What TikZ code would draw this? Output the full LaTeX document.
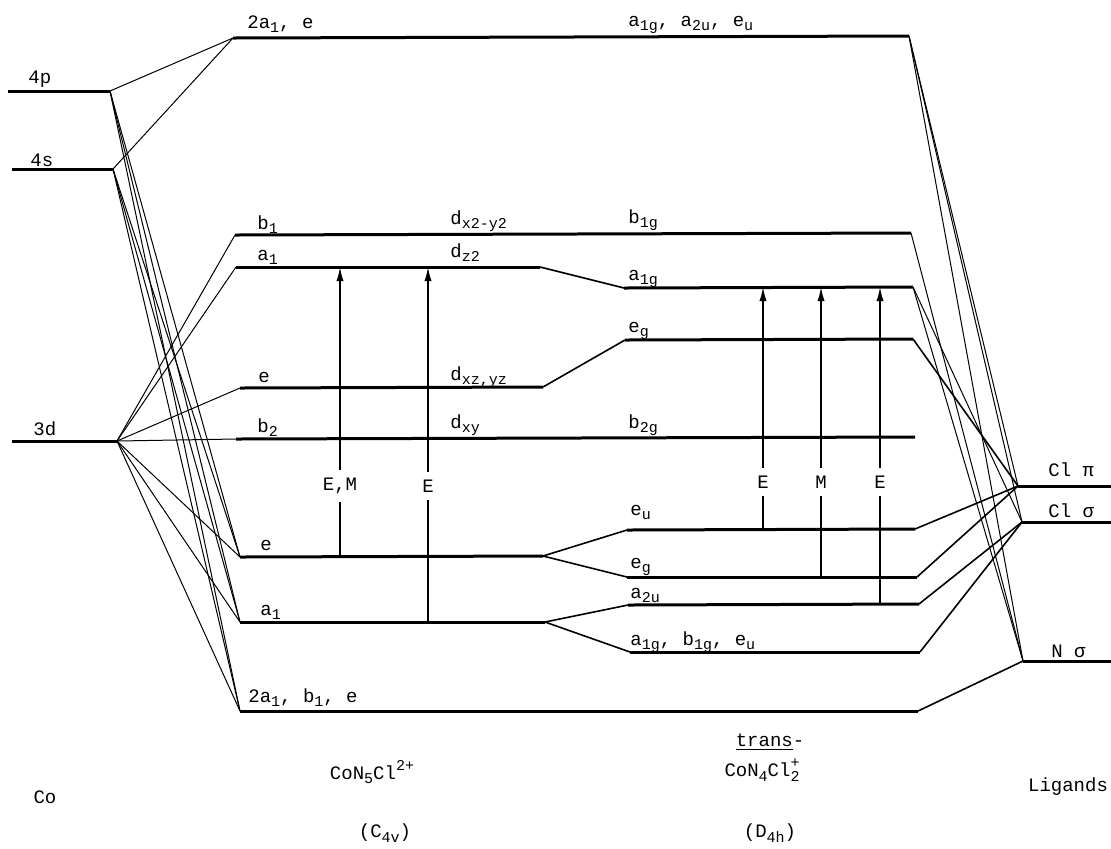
\documentclass[tikz,border=0pt]{standalone}
\usepackage{fontspec}
\setmainfont{Liberation Mono}
\usetikzlibrary{arrows.meta}

\newcommand{\lsub}[1]{\raisebox{-0.45ex}{\fontsize{7.5}{8}\selectfont #1}}
\newcommand{\lsup}[1]{\raisebox{0.9ex}{\fontsize{7.5}{8}\selectfont #1}}

\tikzset{
  lvl/.style={line width=1.5pt},
  link/.style={line width=0.5pt},
  slant/.style={line width=0.8pt},
  trans/.style={line width=0.8pt},
  lab/.style={anchor=base west, inner sep=0pt, font=\fontsize{9.5}{10}\selectfont},
  tag/.style={inner sep=1pt, outer sep=3pt, font=\fontsize{9.5}{10}\selectfont},
  title/.style={inner sep=0pt, font=\fontsize{9.5}{10}\selectfont},
}

\begin{document}
\begin{tikzpicture}[x=0.5pt,y=-0.5pt]
  \useasboundingbox (0,0) rectangle (1111,848);

  % Co levels
  \coordinate (p0) at (8,91);    \coordinate (p1) at (110,91);
  \coordinate (s0) at (12,169);  \coordinate (s1) at (113,169);
  \coordinate (d0) at (12,441);  \coordinate (d1) at (117,441);

  % C4v / D4h levels
  \coordinate (t0) at (233,38);   \coordinate (t1) at (909,36);
  \coordinate (bo0) at (235,235); \coordinate (bo1) at (911,233);
  \coordinate (au0) at (236,267); \coordinate (au1) at (540,267);
  \coordinate (ag0) at (624,288); \coordinate (ag1) at (913,287);
  \coordinate (ec0) at (240,388); \coordinate (ec1) at (543,387);
  \coordinate (eg0) at (625,340); \coordinate (eg1) at (913,339);
  \coordinate (bt0) at (236,439); \coordinate (bt1) at (915,437);
  \coordinate (el0) at (240,557); \coordinate (el1) at (543,556);
  \coordinate (eu0) at (627,530); \coordinate (eu1) at (915,529);
  \coordinate (gl0) at (627,577); \coordinate (gl1) at (917,577);
  \coordinate (al0) at (240,622); \coordinate (al1) at (545,622);
  \coordinate (au20) at (628,605); \coordinate (au21) at (919,604);
  \coordinate (ab0) at (630,652); \coordinate (ab1) at (920,652);
  \coordinate (bb0) at (240,711); \coordinate (bb1) at (918,711);

  % ligand levels
  \coordinate (cp0) at (1018,486); \coordinate (cp1) at (1111,486);
  \coordinate (cs0) at (1022,522); \coordinate (cs1) at (1111,522);
  \coordinate (ns0) at (1023,661); \coordinate (ns1) at (1111,661);

  \draw[lvl] (p0) -- (p1);
  \draw[lvl] (s0) -- (s1);
  \draw[lvl] (d0) -- (d1);
  \draw[lvl] (t0) -- (t1);
  \draw[lvl] (bo0) -- (bo1);
  \draw[lvl] (au0) -- (au1);
  \draw[lvl] (ag0) -- (ag1);
  \draw[lvl] (ec0) -- (ec1);
  \draw[lvl] (eg0) -- (eg1);
  \draw[lvl] (bt0) -- (bt1);
  \draw[lvl] (el0) -- (el1);
  \draw[lvl] (eu0) -- (eu1);
  \draw[lvl] (gl0) -- (gl1);
  \draw[lvl] (al0) -- (al1);
  \draw[lvl] (au20) -- (au21);
  \draw[lvl] (ab0) -- (ab1);
  \draw[lvl] (bb0) -- (bb1);
  \draw[lvl] (cp0) -- (cp1);
  \draw[lvl] (cs0) -- (cs1);
  \draw[lvl] (ns0) -- (ns1);

  % C4v -> D4h
  \draw[slant] (au1) -- (ag0);
  \draw[slant] (ec1) -- (eg0);
  \draw[slant] (el1) -- (eu0);
  \draw[slant] (el1) -- (gl0);
  \draw[slant] (al1) -- (au20);
  \draw[slant] (al1) -- (ab0);

  % Co -> C4v
  \foreach \a/\b in {p1/t0, s1/t0, d1/bo0, d1/au0, d1/ec0, d1/bt0,
                     d1/el0, d1/al0, d1/bb0, p1/el0, p1/al0, p1/bb0,
                     s1/el0, s1/al0, s1/bb0}
    \draw[link] (\a) -- (\b);

  % D4h -> ligands
  \foreach \a/\b in {t1/cp0, t1/cs0, t1/ns0, bo1/ns0, ag1/cs0, ag1/ns0}
    \draw[link] (\a) -- (\b);
  \draw[slant] (eg1) -- (cp0);
  \draw[slant] (eu1) -- (cp0);
  \draw[slant] (gl1) -- (cp0);
  \draw[slant] (au21) -- (cs0);
  \draw[slant] (ab1) -- (cs0);
  \draw[slant] (bb1) -- (ns0);

  % transitions
  \coordinate (x1b) at (340,557); \coordinate (x1t) at (340,267);
  \coordinate (x2b) at (428,622); \coordinate (x2t) at (428,267);
  \coordinate (x3b) at (763,530); \coordinate (x3t) at (763,287);
  \coordinate (x4b) at (821,577); \coordinate (x4t) at (821,287);
  \coordinate (x5b) at (880,605); \coordinate (x5t) at (880,287);
  \node[tag] (tEM) at (340,486) {E,M};
  \node[tag] (tE1) at (428,486) {E};
  \node[tag] (tE2) at (763,482) {E};
  \node[tag] (tM)  at (821,482) {M};
  \node[tag] (tE3) at (880,482) {E};
  \foreach \n/\b/\t in {tEM/x1b/x1t, tE1/x2b/x2t, tE2/x3b/x3t, tM/x4b/x4t, tE3/x5b/x5t}{
    \draw[trans] (\b) -- (\n);
    \draw[trans, -{Latex[length=7pt,width=3.6pt]}] (\n) -- (\t);
  }

  % level labels
  \node[lab] (l4p) at (28,83) {4p};
  \node[lab] (l4s) at (30,166) {4s};
  \node[lab] (l3d) at (33,435) {3d};
  \node[lab] (ltop) at (247,28) {2a\lsub{1}, e};
  \node[lab] (ltopd) at (628,26) {a\lsub{1g}, a\lsub{2u}, e\lsub{u}};
  \node[lab] (lb1) at (257,229) {b\lsub{1}};
  \node[lab] (ldx) at (450,224) {d\lsub{x2-y2}};
  \node[lab] (la1) at (257,260) {a\lsub{1}};
  \node[lab] (ldz) at (450,257) {d\lsub{z2}};
  \node[lab] (le) at (258,382) {e};
  \node[lab] (ldxz) at (450,380) {d\lsub{xz,yz}};
  \node[lab] (lb2) at (257,432) {b\lsub{2}};
  \node[lab] (ldxy) at (450,428) {d\lsub{xy}};
  \node[lab] (lb1g) at (628,223) {b\lsub{1g}};
  \node[lab] (la1g) at (628,280) {a\lsub{1g}};
  \node[lab] (leg) at (628,332) {e\lsub{g}};
  \node[lab] (lb2g) at (628,428) {b\lsub{2g}};
  \node[lab] (lel) at (260,550) {e};
  \node[lab] (lal) at (260,615) {a\lsub{1}};
  \node[lab] (lbb) at (248,702) {2a\lsub{1}, b\lsub{1}, e};
  \node[lab] (leu) at (630,515) {e\lsub{u}};
  \node[lab] (lgl) at (630,568) {e\lsub{g}};
  \node[lab] (la2u) at (630,598) {a\lsub{2u}};
  \node[lab] (lab1) at (630,645) {a\lsub{1g}, b\lsub{1g}, e\lsub{u}};
  \node[lab] (lcp) at (1048,476) {Cl π};
  \node[lab] (lcs) at (1048,517) {Cl σ};
  \node[lab] (lns) at (1051,657) {N σ};

  % column titles
  \node[title] (tco) at (45,797) {Co};
  \node[title] (tc4) at (372,772) {CoN\lsub{5}Cl\lsup{2+}};
  \node[title] (tc4s) at (385,833) {(C\lsub{4v})};
  \node[title] (ttr) at (770,742) {\underline{trans}-};
  \node[title] (td4) at (762,770) {CoN\lsub{4}Cl\rlap{\lsub{2}}\lsup{+}};
  \node[title] (td4s) at (770,833) {(D\lsub{4h})};
  \node[title] (tlig) at (1068,787) {Ligands};
\end{tikzpicture}
\end{document}
